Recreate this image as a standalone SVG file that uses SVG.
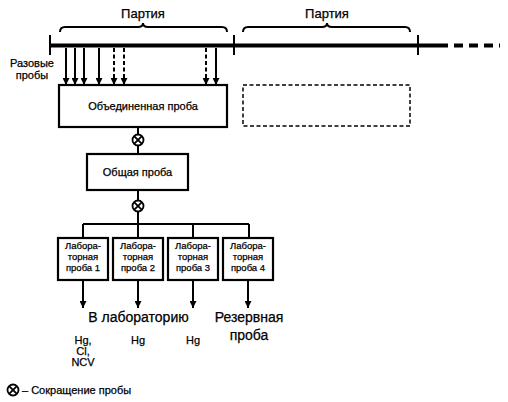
<svg xmlns="http://www.w3.org/2000/svg" width="508" height="402" viewBox="0 0 508 402">
<style>
text{font-family:"Liberation Sans",Arial,sans-serif;fill:#000;stroke:#000;stroke-width:0.25}
.t13{font-size:13px}
.t14{font-size:14px}
.t11{font-size:11px}
.t10{font-size:9.5px}
.box{fill:#fff;stroke:#000;stroke-width:2.2}
.ln{stroke:#000;stroke-width:2;fill:none}
.dash{stroke-dasharray:4,2.5}
</style>
<defs>
<marker id="ah" viewBox="0 0 10 10" refX="10" refY="5" markerWidth="9" markerHeight="7" orient="auto" markerUnits="userSpaceOnUse">
<path d="M0,0L10,5L0,10z" fill="#000"/>
</marker>
<g id="cx">
<circle r="5.5" fill="#fff" stroke="#000" stroke-width="1.8"/>
<path d="M-3.9,-3.9L3.9,3.9M-3.9,3.9L3.9,-3.9" stroke="#000" stroke-width="1.8"/>
</g>
</defs>

<g id="timeline">
<line x1="50" y1="45.5" x2="448" y2="45.5" stroke="#000" stroke-width="4"/>
<line x1="454" y1="45.5" x2="500" y2="45.5" stroke="#000" stroke-width="4" stroke-dasharray="9,6"/>
<line x1="50" y1="35" x2="50" y2="55" class="ln"/>
<line x1="234" y1="35" x2="234" y2="55" class="ln"/>
<line x1="418" y1="35" x2="418" y2="55" class="ln"/>
<path class="ln" stroke-width="1.2" d="M60,32Q60,27 65,27L138,27Q143,27 143,23Q143,27 148,27L222,27Q227,27 227,32"/>
<path class="ln" stroke-width="1.2" d="M243,32Q243,27 248,27L322,27Q327,27 327,23Q327,27 332,27L405,27Q410,27 410,32"/>
<text class="t13" x="143" y="18" text-anchor="middle">Партия</text>
<text class="t13" x="327" y="18" text-anchor="middle">Партия</text>
</g>

<g id="increments">
<text class="t11" x="32" y="67" text-anchor="middle">Разовые</text>
<text class="t11" x="32" y="79" text-anchor="middle">пробы</text>
</g>

<g id="connectors">
<line class="ln" x1="66" y1="48" x2="66" y2="85" marker-end="url(#ah)"/>
<line class="ln" x1="75" y1="48" x2="75" y2="85" marker-end="url(#ah)"/>
<line class="ln" x1="84" y1="48" x2="84" y2="85" marker-end="url(#ah)"/>
<line class="ln" x1="99" y1="48" x2="99" y2="85" marker-end="url(#ah)"/>
<line class="ln dash" x1="114" y1="48" x2="114" y2="85" marker-end="url(#ah)"/>
<line class="ln dash" x1="124" y1="48" x2="124" y2="85" marker-end="url(#ah)"/>
<line class="ln dash" x1="206" y1="48" x2="206" y2="85" marker-end="url(#ah)"/>
<line class="ln" x1="216" y1="48" x2="216" y2="85" marker-end="url(#ah)"/>
<line class="ln" x1="138" y1="127" x2="138" y2="154"/>
<line class="ln" x1="138" y1="190" x2="138" y2="238"/>
<line class="ln" x1="83" y1="224" x2="249" y2="224"/>
<line class="ln" x1="83" y1="224" x2="83" y2="238"/>
<line class="ln" x1="193" y1="224" x2="193" y2="238"/>
<line class="ln" x1="249" y1="224" x2="249" y2="238"/>
<line class="ln" x1="83" y1="280" x2="83" y2="308" marker-end="url(#ah)"/>
<line class="ln" x1="138" y1="280" x2="138" y2="308" marker-end="url(#ah)"/>
<line class="ln" x1="193" y1="280" x2="193" y2="308" marker-end="url(#ah)"/>
<line class="ln" x1="248" y1="280" x2="248" y2="308" marker-end="url(#ah)"/>
<use href="#cx" x="138" y="140"/>
<use href="#cx" x="138" y="206"/>
</g>

<g id="composite">
<rect class="box" x="59" y="85" width="168" height="42"/>
<text class="t11" x="143" y="110" text-anchor="middle" font-size="11.5">Объединенная проба</text>
</g>
<g id="composite-next">
<rect x="243" y="85" width="167" height="41" fill="none" stroke="#000" stroke-width="1.5" stroke-dasharray="4,2.5"/>
</g>
<g id="bulk">
<rect class="box" x="87" y="154" width="101" height="36"/>
<text class="t11" x="137.5" y="176" text-anchor="middle">Общая проба</text>
</g>
<g id="lab1">
<rect class="box" x="58" y="238" width="50" height="42"/>
<text class="t10" x="83" y="249" text-anchor="middle">Лабора-</text>
<text class="t10" x="83" y="260" text-anchor="middle">торная</text>
<text class="t10" x="83" y="271" text-anchor="middle">проба 1</text>
</g>
<g id="lab2">
<rect class="box" x="113" y="238" width="50" height="42"/>
<text class="t10" x="138" y="249" text-anchor="middle">Лабора-</text>
<text class="t10" x="138" y="260" text-anchor="middle">торная</text>
<text class="t10" x="138" y="271" text-anchor="middle">проба 2</text>
</g>
<g id="lab3">
<rect class="box" x="168" y="238" width="50" height="42"/>
<text class="t10" x="193" y="249" text-anchor="middle">Лабора-</text>
<text class="t10" x="193" y="260" text-anchor="middle">торная</text>
<text class="t10" x="193" y="271" text-anchor="middle">проба 3</text>
</g>
<g id="lab4">
<rect class="box" x="223" y="238" width="50" height="42"/>
<text class="t10" x="248" y="249" text-anchor="middle">Лабора-</text>
<text class="t10" x="248" y="260" text-anchor="middle">торная</text>
<text class="t10" x="248" y="271" text-anchor="middle">проба 4</text>
</g>

<g id="labels">
<text class="t14" x="138.5" y="322" text-anchor="middle">В лабораторию</text>
<text class="t14" x="249" y="322" text-anchor="middle">Резервная</text>
<text class="t14" x="249" y="340" text-anchor="middle">проба</text>
<text class="t11" x="83" y="344" text-anchor="middle">Hg,</text>
<text class="t11" x="83" y="355" text-anchor="middle">Cl,</text>
<text class="t11" x="83" y="366" text-anchor="middle">NCV</text>
<text class="t11" x="138" y="344" text-anchor="middle">Hg</text>
<text class="t11" x="193" y="344" text-anchor="middle">Hg</text>
</g>

<g id="legend">
<use href="#cx" x="13" y="390"/>
<text class="t11" x="22" y="394">– Сокращение пробы</text>
</g>
</svg>
